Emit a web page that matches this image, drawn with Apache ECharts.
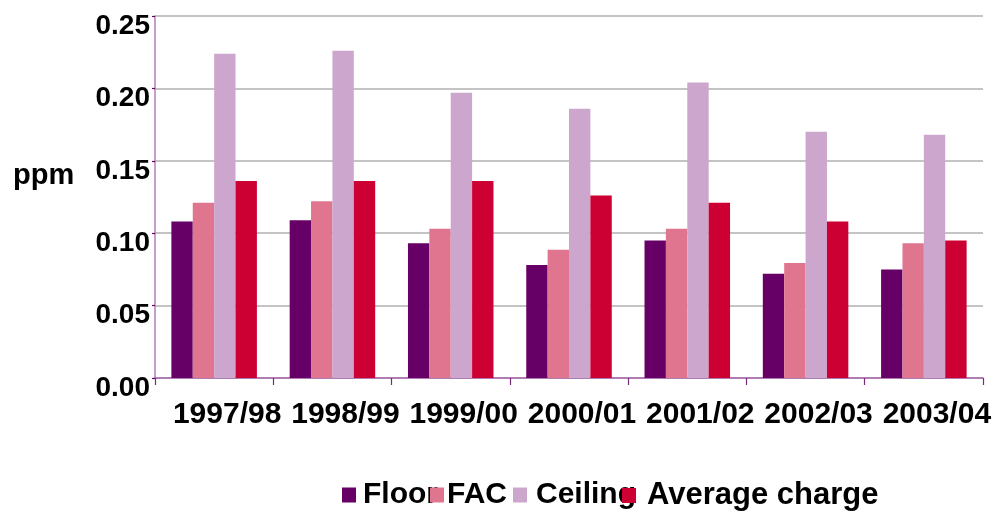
<!DOCTYPE html>
<html>
<head>
<meta charset="utf-8">
<script src="https://cdn.jsdelivr.net/npm/echarts@6/dist/echarts.min.js"></script>
<style>
  html, body { margin: 0; padding: 0; background: #ffffff; }
  #chart { width: 999px; height: 512px; }
</style>
</head>
<body>
<div id="chart"></div>
<script>
// Yearly values in ppm
const years = ['1997/98', '1998/99', '1999/00', '2000/01', '2001/02', '2002/03', '2003/04'];
const floorVals   = [0.108, 0.109, 0.093, 0.078, 0.095, 0.072, 0.075];
const facVals     = [0.121, 0.122, 0.103, 0.0885, 0.103, 0.0795, 0.093];
const ceilingVals = [0.224, 0.226, 0.197, 0.186, 0.204, 0.170, 0.168];
const averageVals = [0.136, 0.136, 0.136, 0.126, 0.121, 0.108, 0.095];
const seriesNames = ['Floor', 'FAC', 'Ceiling', 'Average charge'];
const yTicks = [0, 0.05, 0.10, 0.15, 0.20, 0.25];

const colors = ['#660066', '#E07590', '#CCA6CC', '#CC0033'];
const FONT = '"Liberation Sans", Arial, Helvetica, sans-serif';

const chart = echarts.init(document.getElementById('chart'), null, { renderer: 'canvas' });

const allValues = [floorVals, facVals, ceilingVals, averageVals];
const series = seriesNames.map((name, i) => ({
  name: name,
  type: 'bar',
  data: allValues[i],
  barGap: '0%',
  barCategoryGap: '27.7%',
  itemStyle: { color: colors[i] },
  emphasis: { disabled: true }
}));

// One legend block per item so each key sits at its own spot
const legendLefts = [342, 430, 513, 622];
const legendPads = [[0, 0, 0, 2], [0, 0, 0, -2], [0, 0, 0, 4], [0, 0, 0, 6]];
const legendSizes = [30, 30, 30, 31];
const legends = seriesNames.map((name, i) => ({
  data: [name],
  left: legendLefts[i],
  top: 480,
  icon: 'rect',
  itemWidth: 14,
  itemHeight: 15,
  itemGap: 0,
  padding: 0,
  selectedMode: false,
  textStyle: {
    fontFamily: FONT, fontSize: legendSizes[i], fontWeight: 'bold', color: '#000000',
    padding: legendPads[i]
  }
}));

chart.setOption({
  animation: false,
  backgroundColor: '#ffffff',
  color: colors,
  grid: { left: 155, right: 16, top: 16, bottom: 134, containLabel: false },
  legend: legends,
  graphic: [{
    type: 'text',
    left: 13,
    top: 161,
    style: {
      text: 'ppm',
      font: 'bold 29px ' + FONT,
      fill: '#000000'
    }
  }],
  xAxis: {
    type: 'category',
    data: years,
    axisLine: { show: true, lineStyle: { color: '#a865ad', width: 1.5 } },
    axisTick: { show: true, length: 7, interval: 0, lineStyle: { color: '#7a2a7a', width: 1.2 } },
    axisLabel: {
      interval: 0,
      margin: 22,
      fontFamily: FONT, fontSize: 30, fontWeight: 'bold', color: '#000000',
      padding: [0, 0, 0, 26]
    },
    splitLine: { show: false }
  },
  yAxis: {
    type: 'value',
    min: yTicks[0],
    max: yTicks[yTicks.length - 1],
    interval: 0.05,
    axisLine: { show: true, lineStyle: { color: '#b57cbc', width: 1.5 } },
    axisTick: { show: true, length: 3, lineStyle: { color: '#660066', width: 1.2 } },
    axisLabel: {
      margin: 5,
      formatter: v => '{t|' + v.toFixed(2) + '}',
      rich: {
        t: {
          fontFamily: FONT, fontSize: 28, fontWeight: 'bold', color: '#000000',
          padding: [20, 0, 0, 0]
        }
      }
    },
    splitLine: { show: true, lineStyle: { color: '#c4c4c4', width: 2 } }
  },
  series: series
});
</script>
</body>
</html>
